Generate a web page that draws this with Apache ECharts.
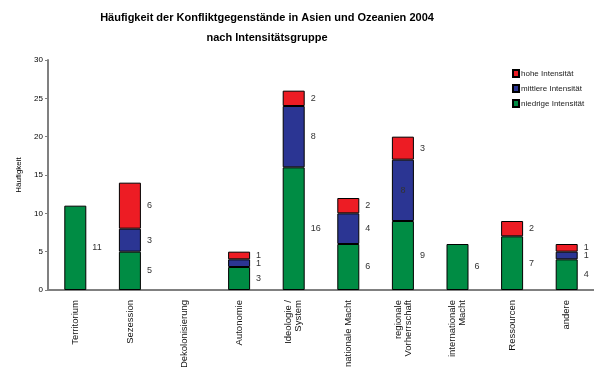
<!DOCTYPE html>
<html><head><meta charset="utf-8">
<script src="https://cdn.jsdelivr.net/npm/echarts@6/dist/echarts.min.js"></script>
<style>html,body{margin:0;padding:0;background:#fff}#c{width:594px;height:367px}</style>
</head><body><div id="c"></div>
<script>
var categories = ['Territorium','Sezession','Dekolonisierung','Autonomie','Ideologie /\nSystem','nationale Macht','regionale\nVorherrschaft','internationale\nMacht','Ressourcen','andere'];
var niedrige = [11,5,0,3,16,6,9,6,7,4];
var mittlere = [0,3,0,1,8,4,8,0,0,1];
var hohe = [0,6,0,1,2,2,3,0,2,1];
var yTicks = [0,5,10,15,20,25,30];

var font = 'Liberation Sans, Arial, sans-serif';
function mk(name, arr, color, insideIdx) {
  return {
    name: name, type: 'bar', stack: 's', barWidth: 22,
    itemStyle: {color: color, borderColor: '#000', borderWidth: 1},
    label: {show: true, position: 'right', distance: 6, color: '#333', fontSize: 9, fontFamily: font,
      formatter: function(p){ return p.value ? p.value : ''; }},
    data: arr.map(function(v, i){
      if (!v) return null;
      if (insideIdx === i) return {value: v, label: {position: 'inside', color: '#333'}};
      return v;
    })
  };
}
var chart = echarts.init(document.getElementById('c'));
chart.setOption({
  animation: false,
  title: {text: 'Häufigkeit der Konfliktgegenstände in Asien und Ozeanien 2004\nnach Intensitätsgruppe',
    left: 262, top: 3, textAlign: 'center',
    textStyle: {fontSize: 11, fontWeight: 'bold', fontFamily: font, color: '#000', lineHeight: 20}},
  legend: {orient: 'vertical', left: 507, top: 64, itemWidth: 6, itemHeight: 7, itemGap: 6, icon: 'rect',
    data: ['hohe Intensität','mittlere Intensität','niedrige Intensität'],
    textStyle: {fontSize: 8, fontFamily: font, color: '#222', padding: [0,0,0,-3]}},
  grid: {left: 48, right: 0, top: 60, bottom: 77, containLabel: false, outerBoundsMode: 'none'},
  xAxis: {type: 'category', data: categories,
    axisLine: {lineStyle: {color: '#808080', width: 2}},
    axisTick: {length: 4, lineStyle: {color: '#808080'}},
    axisLabel: {rotate: 90, interval: 0, fontSize: 9.5, fontFamily: font, color: '#111', margin: 10, lineHeight: 10}},
  yAxis: {type: 'value', min: 0, max: 30, interval: 5, name: 'Häufigkeit', nameLocation: 'middle', nameGap: 24,
    nameTextStyle: {fontSize: 8, fontFamily: font, color: '#000'},
    axisLine: {show: true, lineStyle: {color: '#808080', width: 2}},
    axisTick: {show: true, length: 3, lineStyle: {color: '#808080'}},
    splitLine: {show: false},
    axisLabel: {fontSize: 8, fontFamily: font, color: '#000', margin: 5,
      formatter: function(v){ return yTicks.indexOf(v) >= 0 ? v : ''; }}},
  series: [
    mk('niedrige Intensität', niedrige, '#008C44'),
    mk('mittlere Intensität', mittlere, '#2B3593', 6),
    mk('hohe Intensität', hohe, '#ED1C24')
  ]
});
</script></body></html>
